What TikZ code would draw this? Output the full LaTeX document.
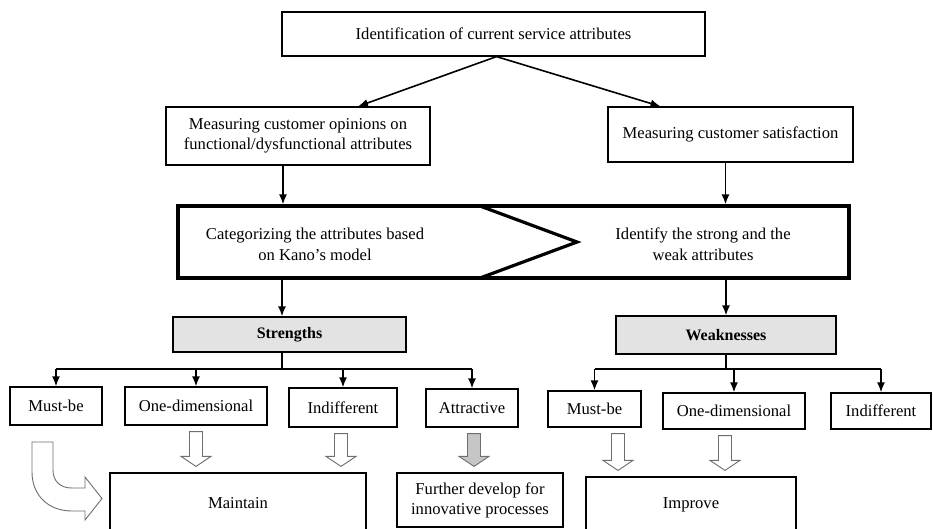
\documentclass[tikz,border=0pt]{standalone}
\usepackage{fontspec}
\setmainfont{Liberation Serif}
\usetikzlibrary{arrows.meta,positioning,calc}
\definecolor{grisclaro}{HTML}{E3E3E3}
\definecolor{grisflecha}{HTML}{C6C6C6}
\definecolor{bordegris}{HTML}{6E6E6E}

% flecha hueca vertical entre dos cajas: [estilo]{x}{origen}{destino}
\newcommand{\bloque}[4][]{%
  \draw[hueca,#1] let \p1=(#3.south), \p2=(#4.north) in
    (#2pt-6.5pt,\y1-6pt) -- (#2pt+6.5pt,\y1-6pt) -- (#2pt+6.5pt,\y2+16pt)
    -- (#2pt+15pt,\y2+16pt) -- (#2pt,\y2+6pt) -- (#2pt-15pt,\y2+16pt)
    -- (#2pt-6.5pt,\y2+16pt) -- cycle;}

\begin{document}
\begin{tikzpicture}[x=1pt,y=-1pt,
  caja/.style={draw,line width=1.2pt,inner sep=2pt,align=center,
               font=\fontsize{16.6}{20}\selectfont},
  resalte/.style={caja,fill=grisclaro,font=\fontsize{16}{20}\selectfont\bfseries},
  texto/.style={align=center,inner sep=1pt,font=\fontsize{16.6}{21}\selectfont},
  marcogrueso/.style={draw,line width=3.2pt,line join=miter},
  flecha/.style={-{Latex[length=10pt,width=8pt]},line width=1.6pt},
  rama/.style={line width=2pt},
  hueca/.style={draw=bordegris,line width=0.9pt,fill=white,line join=miter}
]
\clip (0,0) rectangle (933,528);

% cabecera
\node[caja,minimum width=423pt,minimum height=44pt] (ident) at (493.5,34) {Identification of current service attributes};
\node[caja,minimum width=264pt,minimum height=58pt] (opinion) at (298,136) {Measuring customer opinions on\\functional/dysfunctional attributes};
\node[caja,minimum width=245pt,minimum height=55pt] (satis) at (730.5,134.5) {Measuring customer satisfaction};
\draw[flecha] ([xshift=3pt]ident.south) -- ([xshift=60pt]opinion.north);
\draw[flecha] ([xshift=3pt]ident.south) -- ([xshift=-70pt]satis.north);

% bloque del modelo de Kano
\node[marcogrueso,minimum width=671pt,minimum height=72pt] (marco) at (513.5,242) {};
\draw[marcogrueso] (480,206) -- (577,242) -- (480,278);
\node[texto] (kano) at (315,244.5) {Categorizing the attributes based\\on Kano’s model};
\node[texto] (fuerte) at (703,244.5) {Identify the strong and the\\weak attributes};
\draw[flecha] ([xshift=-15pt]opinion.south) -- ([xshift=-15pt]opinion.south |- marco.north);
\draw[flecha] ([xshift=-5pt]satis.south) -- ([xshift=-5pt]satis.south |- marco.north);

% fortalezas y debilidades
\node[resalte,minimum width=233pt,minimum height=35pt] (fort) at (289.5,334.5) {Strengths};
\node[resalte,minimum width=220pt,minimum height=38pt] (debil) at (726,335) {Weaknesses};
\coordinate (rs) at (282,369);
\coordinate (rw) at (726,369);
\draw[flecha] (rs |- marco.south) -- (rs |- fort.north);
\draw[flecha] (rw |- marco.south) -- (debil.north);

% categorias
\node[caja,minimum width=92pt,minimum height=38pt] (mbS) at (56,406) {Must-be};
\node[caja,minimum width=142pt,minimum height=38pt] (odS) at (196,406) {One-dimensional};
\node[caja,minimum width=108pt,minimum height=39pt] (inS) at (343,407.5) {Indifferent};
\node[caja,minimum width=92pt,minimum height=38pt] (atS) at (472,408) {Attractive};
\node[caja,minimum width=93pt,minimum height=36pt] (mbW) at (594.5,409) {Must-be};
\node[caja,minimum width=142pt,minimum height=36pt] (odW) at (734,411) {One-dimensional};
\node[caja,minimum width=100pt,minimum height=36pt] (inW) at (881,411) {Indifferent};

\draw[rama] (rs |- fort.south) -- (rs);
\draw[rama] (mbS.north |- rs) -- (atS.north |- rs);
\foreach \n in {mbS,odS,inS,atS}
  \draw[flecha] (\n.north |- rs) -- (\n.north);
\draw[rama] (debil.south) -- (rw);
\draw[rama] (mbW.north |- rw) -- (inW.north |- rw);
\foreach \n in {mbW,odW,inW}
  \draw[flecha] (\n.north |- rw) -- (\n.north);

% acciones
\node[caja,minimum width=256pt,minimum height=60pt] (mant) at (238,503) {Maintain};
\node[caja,minimum width=166pt,minimum height=54pt] (desar) at (480,500) {Further develop for\\innovative processes};
\node[caja,minimum width=210pt,minimum height=56pt] (mejor) at (691,505) {Improve};

\bloque{196}{odS}{mant}
\bloque{341}{inS}{mant}
\bloque[fill=grisflecha]{474}{atS}{desar}
\bloque{618}{mbW}{mejor}
\bloque{725}{odW}{mejor}

% flecha curva de Must-be
\draw[hueca] (32,442) -- (53,442) -- (53,470)
  .. controls (53,481) and (60,488) .. (72,488) -- (85,488) -- (85,477)
  -- (102,498.5) -- (85,520) -- (85,511) -- (72,511)
  .. controls (48,511) and (32,495) .. (32,472) -- cycle;
\end{tikzpicture}
\end{document}
